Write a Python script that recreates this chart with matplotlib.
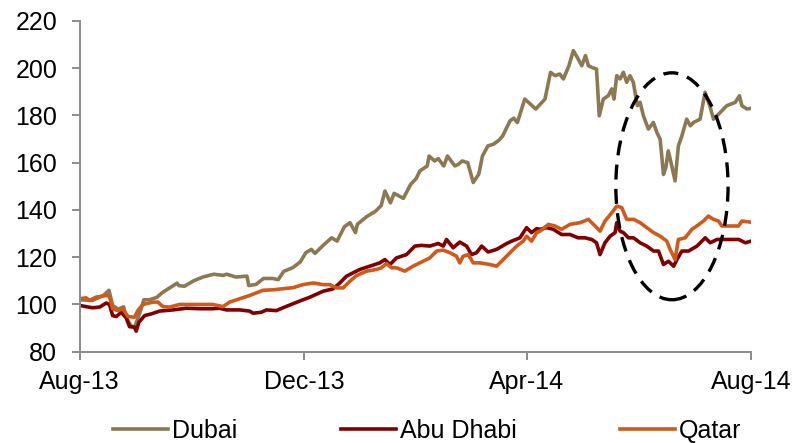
import matplotlib
matplotlib.use("Agg")
import matplotlib.pyplot as plt
import matplotlib.dates as mdates
from matplotlib.patches import Ellipse
import pandas as pd

plt.rcParams["font.family"] = ["Liberation Sans", "DejaVu Sans"]

START = pd.Timestamp("2013-08-01")

# days since START, index level (rebased to 100)
dubai_days = [0, 7, 13, 16, 18, 21, 24, 25, 28, 30,
              33, 35, 38, 42, 45, 53, 54, 57, 62, 67,
              73, 78, 80, 85, 91, 92, 96, 100, 105, 108,
              111, 116, 120, 123, 126, 128, 132, 137, 140, 144,
              147, 150, 151, 156, 161, 164, 166, 169, 171, 176,
              180, 183, 185, 189, 190, 193, 195, 198, 200, 204,
              206, 208, 211, 214, 217, 219, 222, 225, 228, 230,
              234, 236, 238, 242, 246, 248, 253, 256, 258.5, 261,
              263, 266, 268.4, 271, 273, 275, 276.6, 278.4, 281, 282.5,
              284.7, 287.4, 289.3, 290.5, 292, 293.8, 295.6, 297.4, 299.2, 301,
              303.2, 304.7, 306.5, 309.2, 311.9, 313.8, 315.6, 317.4, 318.7, 320,
              321.5, 323.7, 325.5, 327.4, 330, 332, 333.7, 337.3, 340, 342.8,
              344.6, 348.2, 351.8, 356.4, 358.7, 360, 362.7, 365]
dubai_vals = [102, 101.7, 103.8, 106, 99.6, 98, 99, 95, 91, 90.4,
              97, 102, 102, 103, 105, 109, 108, 107.7, 110, 111.6,
              112.8, 112.3, 112.8, 111.6, 112, 108, 108.5, 111, 111, 110.5,
              114, 115.6, 118, 121.9, 123.3, 121.6, 124.7, 128.2, 126.8, 132.9,
              134.6, 130.4, 133.9, 137.1, 139.5, 141.9, 148, 143, 147, 144.9,
              150.8, 153.3, 156.5, 158.6, 162.8, 160.7, 161.7, 158.6, 162.8, 158.6,
              159.3, 160.7, 160, 151.6, 155.1, 162.8, 167.1, 167.8, 169.5, 171.3,
              177.7, 178.8, 177, 186.9, 184.1, 182.7, 186.9, 198.2, 196.8, 197.5,
              195.4, 201, 207.4, 203.9, 201, 205.3, 201, 200.3, 199.6, 179.8,
              186.9, 188.3, 191.2, 186.9, 196.8, 195.4, 198.2, 194, 196.8, 194,
              184.1, 185.5, 179.8, 174.2, 177, 172.8, 169.9, 155, 158, 165,
              160, 152.3, 167.1, 171.3, 178.4, 175.6, 177, 178.4, 189.8, 183.4,
              178.4, 181.2, 184.1, 185.5, 188.3, 184.1, 182.7, 183]

abudhabi_days = [0, 7, 11, 14.5, 16.3, 18, 20, 22.7, 25.4, 27.2,
                 29.9, 30.8, 32.3, 35.4, 39, 43.5, 50.8, 58, 65.3, 72.5,
                 76.2, 79.8, 87, 92.5, 94.3, 98.8, 101.6, 107, 110.6, 116,
                 121.5, 125, 132.4, 137.8, 141.5, 145, 148.7, 152.3, 157.8, 163.2,
                 166, 168.7, 172.3, 177.7, 182.3, 185.9, 190.4, 195, 197.7, 199.5,
                 203.1, 206.7, 210.4, 213.1, 215.8, 218.6, 222.1, 226.7, 232.2, 234.9,
                 239.4, 243, 245.7, 248.5, 250.3, 253.9, 257.5, 262, 266.6, 271,
                 274.7, 278.4, 281, 282.9, 285.6, 288.4, 291.1, 292, 293.8, 295.6,
                 298.4, 301.1, 304.7, 308.3, 312, 314.7, 317.4, 320.1, 322.9, 324.7,
                 327.4, 331, 335.6, 340.1, 342.8, 346.5, 351.9, 358.3, 361.9, 365]
abudhabi_vals = [99.6, 98.6, 98.9, 100.6, 100, 95.3, 94.9, 96.7, 94.3, 90.6,
                 90.4, 88.7, 92.5, 95.3, 96, 97.2, 97.7, 98.4, 98.2, 98.2,
                 98.4, 97.7, 97.7, 97.2, 96.3, 96.7, 97.7, 97.4, 98.6, 100.3,
                 102, 103, 105.6, 106.6, 109.1, 111.9, 113.4, 114.8, 116.2, 117.6,
                 119, 116.9, 119.7, 121.1, 124.7, 125, 124.7, 125.8, 124.7, 127.5,
                 124, 126.4, 124.7, 121.1, 121.9, 124.7, 122.2, 123.3, 125.8, 126.8,
                 128.2, 132.5, 130.4, 132.1, 131.8, 132.5, 131.8, 129.6, 129.6, 128.2,
                 128.2, 127.5, 126.1, 121.1, 126.1, 128.9, 130.4, 134.6, 131, 130.4,
                 128.2, 128.2, 126.1, 124.7, 122.6, 122.6, 116.9, 118.3, 116.2, 119,
                 122.6, 122.6, 124.7, 128.2, 126.1, 127.5, 127.5, 127.5, 126.1, 126.8]

qatar_days = [0, 3.6, 5.4, 9, 14.5, 16.3, 18, 20.9, 23.6, 26.3,
              29.9, 31.7, 34.5, 39.9, 42.6, 45.3, 49, 54.4, 61.7, 72.5,
              78, 81.6, 87, 92.5, 99.7, 105.2, 116, 121.5, 127, 132.4,
              136, 139.7, 143.3, 146.9, 150.5, 156, 161.4, 164.1, 166.9, 169.6,
              172.3, 176.8, 181.3, 186.8, 190.4, 194.1, 197.7, 201.3, 204.9, 206.7,
              208.5, 211.3, 214, 217.6, 223.1, 226.7, 230.3, 234, 237.6, 241.2,
              243, 245.7, 248.5, 250.3, 254.8, 258.4, 262, 266.6, 272, 276.6,
              280.2, 282.9, 285.6, 289.3, 292, 294.7, 297.4, 301.1, 304.7, 308.3,
              312, 315.6, 319.2, 321, 323.7, 325.5, 329.2, 332.8, 335.5, 339.1,
              341.8, 344.6, 347.3, 349.1, 355.4, 358.2, 360, 365]
qatar_vals = [102.4, 102.8, 101.7, 103.1, 103.8, 103.4, 98.2, 97.4, 98.2, 94.9,
              94.6, 97.4, 100, 101, 101, 99.1, 98.9, 100, 100, 100,
              99.1, 101, 102.4, 103.8, 106, 106.2, 107.1, 108.4, 109.1, 108.4,
              108.4, 107, 107, 109.8, 112.2, 114.1, 114.8, 115.5, 117.3, 115.5,
              115.5, 114.1, 116.2, 118.3, 119.7, 122.6, 123, 121.9, 120.4, 117.6,
              120.4, 121.1, 117.6, 117.6, 116.9, 116.2, 119, 121.9, 124.7, 126.8,
              128.9, 126.8, 130.4, 131, 133.9, 133.2, 131.8, 133.9, 134.6, 136,
              133.2, 131, 135.3, 138.8, 141.6, 141, 136, 136, 134.6, 132.5,
              130.4, 128.9, 126.8, 123.3, 119, 127.5, 128.2, 131.8, 133.2, 135.3,
              137.4, 136, 135.3, 133.2, 133.2, 133.2, 135.3, 134.8]

tick_dates = ["2013-08-01", "2013-12-01", "2014-04-01", "2014-08-01"]
tick_labels = ["Aug-13", "Dec-13", "Apr-14", "Aug-14"]

# dashed ring around the June-July sell-off
ring_center = ("2014-06-19", 150)
ring_size = (61, 96)  # days, index points

series = [
    ("Dubai", dubai_days, dubai_vals, "#8C7853"),
    ("Abu Dhabi", abudhabi_days, abudhabi_vals, "#800000"),
    ("Qatar", qatar_days, qatar_vals, "#CF5A1C"),
]

fig = plt.figure(figsize=(7.99, 4.43), dpi=100)
ax = fig.add_axes([0.0995, 0.206, 0.8405, 0.747])

for name, days, vals, color in series:
    dates = START + pd.to_timedelta(days, unit="D")
    ax.plot(dates, vals, color=color, lw=2.6, label=name, solid_joinstyle="round")

cx = mdates.date2num(pd.Timestamp(ring_center[0]))
ax.add_patch(Ellipse((cx, ring_center[1]), ring_size[0], ring_size[1],
                     fill=False, edgecolor="black", lw=2.4,
                     linestyle=(0, (4.5, 2.8)), zorder=5))

ax.set_xlim(pd.Timestamp(tick_dates[0]), pd.Timestamp(tick_dates[-1]))
ax.set_ylim(80, 220)
ax.set_yticks(range(80, 221, 20))
ax.set_xticks([pd.Timestamp(d) for d in tick_dates])
ax.set_xticklabels(tick_labels)

for side in ("top", "right"):
    ax.spines[side].set_visible(False)
for side in ("left", "bottom"):
    ax.spines[side].set_color("#8c8c8c")
    ax.spines[side].set_linewidth(1.4)
ax.tick_params(axis="both", colors="#8c8c8c", length=6, width=1.4,
               labelsize=18, labelcolor="black")
ax.tick_params(axis="y", pad=10)
ax.tick_params(axis="x", pad=7)

fig.legend(loc="center", bbox_to_anchor=(0.535, 0.027), ncol=3, frameon=False,
           fontsize=18, handlelength=2.2, handletextpad=0.15, columnspacing=4.15)

fig.savefig("out.png", dpi=100)
